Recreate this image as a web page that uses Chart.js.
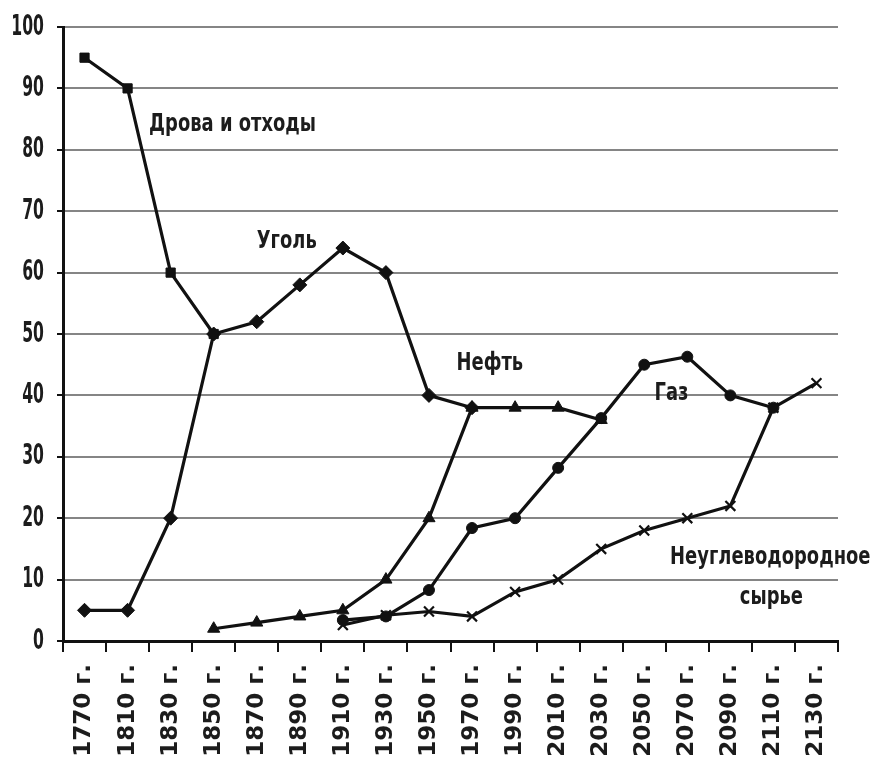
<!DOCTYPE html>
<html lang="ru">
<head>
<meta charset="UTF-8">
<title>Структура энергопотребления</title>
<script src="https://cdn.jsdelivr.net/npm/chart.js@4"></script>
<style>
  html, body { margin:0; padding:0; background:#fff; }
  #wrap { width:872px; height:769px; }
</style>
</head>
<body>
<div id="wrap"><canvas id="cvs"></canvas></div>
<script>
// годы по оси X
const years = ['1770 г.','1810 г.','1830 г.','1850 г.','1870 г.','1890 г.','1910 г.','1930 г.','1950 г.',
               '1970 г.','1990 г.','2010 г.','2030 г.','2050 г.','2070 г.','2090 г.','2110 г.','2130 г.'];

// доли, % (null — нет точки)
const wood    = [95, 90, 60, 50, null, null, null, null, null, null, null, null, null, null, null, null, null, null];
const coal    = [5, 5, 20, 50, 52, 58, 64, 60, 40, 38, null, null, null, null, null, null, null, null];
const oil     = [null, null, null, 2, 3, 4, 5, 10, 20, 38, 38, 38, 36, null, null, null, null, null];
const gas     = [null, null, null, null, null, null, 3.4, 4, 8.3, 18.4, 20, 28.2, 36.3, 45, 46.3, 40, 38, null];
const nonHydro = [null, null, null, null, null, null, 2.6, 4.2, 4.8, 4, 8, 10, 15, 18, 20, 22, 38, 42];

const yTicks = [0, 10, 20, 30, 40, 50, 60, 70, 80, 90, 100];

// подписи линий
const seriesNames = ['Дрова и отходы', 'Уголь', 'Нефть', 'Газ', 'Неуглеводородное', 'сырье'];
// где стоят подписи: [индекс года (левый край), значение по Y (середина строки)]
const nameAnchors = [[1.5, 84], [4.0, 65.1], [8.64, 45.1], [13.24, 40.2], [13.6, 13.5], [15.22, 7]];

const black = '#111';
const cond = "'DejaVu Sans Condensed', 'DejaVu Sans', sans-serif";

function ds(data, style, r) {
  return {
    data, borderColor: black, backgroundColor: black, borderWidth: 3.2,
    pointStyle: style, pointRadius: r, pointHoverRadius: r,
    pointBorderColor: black, pointBackgroundColor: black, pointBorderWidth: style === 'crossRot' ? 2.2 : 1,
    tension: 0, spanGaps: false
  };
}

// узкий текст: рисуем со сжатием по горизонтали
function narrowText(ctx, t, px, py, sx, align) {
  ctx.save();
  ctx.translate(px, py);
  ctx.scale(sx, 1);
  ctx.textAlign = align;
  ctx.fillText(t, 0, 0);
  ctx.restore();
}

const textPlugin = {
  id: 'narrowTexts',
  afterDraw(chart) {
    const { ctx, scales: { x, y } } = chart;
    ctx.save();
    ctx.fillStyle = '#1c1c1c';
    ctx.textBaseline = 'middle';
    // подписи оси Y
    ctx.font = `bold 29px ${cond}`;
    yTicks.forEach(v => narrowText(ctx, String(v), 44, y.getPixelForValue(v), 0.6, 'right'));
    // подписи линий
    ctx.font = `bold 24px ${cond}`;
    seriesNames.forEach((t, i) => {
      const [ix, v] = nameAnchors[i];
      narrowText(ctx, t, x.getPixelForValue(ix), y.getPixelForValue(v), 0.83, 'left');
    });
    ctx.restore();
  }
};

new Chart(document.getElementById('cvs'), {
  type: 'line',
  data: {
    labels: years,
    datasets: [
      ds(wood, 'rect', 6.5),
      ds(coal, 'rectRot', 7),
      ds(oil, 'triangle', 7),
      ds(gas, 'circle', 5.5),
      ds(nonHydro, 'crossRot', 7)
    ]
  },
  options: {
    responsive: true,
    maintainAspectRatio: false,
    animation: false,
    layout: { padding: { top: 27, right: 34, left: 0, bottom: 0 } },
    plugins: { legend: { display: false }, tooltip: { enabled: false } },
    scales: {
      x: {
        offset: true,
        grid: { offset: true, drawOnChartArea: false, drawTicks: true, tickLength: 11, tickColor: black, lineWidth: 2 },
        border: { display: true, color: black, width: 3 },
        ticks: {
          autoSkip: false, minRotation: 90, maxRotation: 90, padding: 12,
          color: '#1c1c1c', font: { family: "'DejaVu Sans', sans-serif", weight: 'bold', size: 23 }
        },
        afterFit(s) { s.height = 128; }
      },
      y: {
        min: 0, max: 100,
        afterBuildTicks(s) { s.ticks = yTicks.map(v => ({ value: v })); },
        grid: { color: '#858585', lineWidth: 2, tickLength: 6, tickColor: black },
        border: { display: true, color: black, width: 3 },
        ticks: { display: false },
        afterFit(s) { s.width = 63; }
      }
    }
  },
  plugins: [textPlugin]
});
</script>
</body>
</html>
